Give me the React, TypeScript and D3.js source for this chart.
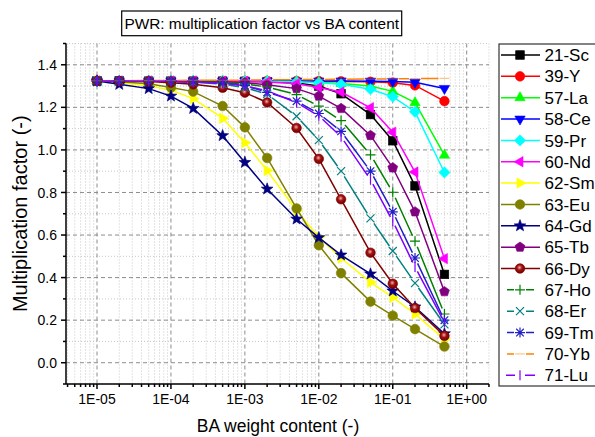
import React from "react";
import * as d3 from "d3";

// BA weight fraction sampled in the burnable-absorber study
const baContent = [1e-5, 2e-5, 5e-5, 1e-4, 2e-4, 5e-4, 1e-3, 2e-3, 5e-3, 1e-2, 2e-2, 5e-2, 1e-1, 2e-1, 5e-1];

// multiplication factor per absorber element
const scValues = [1.324, 1.324, 1.323, 1.323, 1.323, 1.323, 1.322, 1.321, 1.314, 1.300, 1.264, 1.166, 1.043, 0.831, 0.415];
const yValues = [1.324, 1.324, 1.324, 1.324, 1.324, 1.324, 1.324, 1.324, 1.324, 1.323, 1.322, 1.320, 1.316, 1.303, 1.229];
const laValues = [1.324, 1.324, 1.324, 1.324, 1.324, 1.324, 1.323, 1.323, 1.321, 1.318, 1.312, 1.300, 1.275, 1.222, 0.975];
const ceValues = [1.324, 1.324, 1.324, 1.324, 1.324, 1.324, 1.324, 1.324, 1.324, 1.324, 1.324, 1.323, 1.322, 1.318, 1.289];
const prValues = [1.324, 1.324, 1.324, 1.324, 1.324, 1.324, 1.323, 1.322, 1.320, 1.316, 1.308, 1.285, 1.250, 1.179, 0.894];
const ndValues = [1.324, 1.324, 1.324, 1.324, 1.324, 1.323, 1.322, 1.319, 1.311, 1.293, 1.272, 1.198, 1.083, 0.896, 0.489];
const smValues = [1.324, 1.315, 1.301, 1.281, 1.241, 1.149, 1.034, 0.903, 0.715, 0.590, 0.492, 0.378, 0.307, 0.229, 0.110];
const euValues = [1.324, 1.320, 1.311, 1.293, 1.274, 1.206, 1.106, 0.962, 0.725, 0.552, 0.421, 0.287, 0.221, 0.158, 0.076];
const gdValues = [1.324, 1.308, 1.288, 1.253, 1.195, 1.067, 0.941, 0.816, 0.675, 0.588, 0.506, 0.417, 0.337, 0.262, 0.136];
const tbValues = [1.324, 1.324, 1.324, 1.323, 1.322, 1.320, 1.316, 1.306, 1.288, 1.253, 1.195, 1.068, 0.916, 0.709, 0.334];
const dyValues = [1.324, 1.323, 1.321, 1.316, 1.308, 1.292, 1.269, 1.223, 1.103, 0.958, 0.768, 0.517, 0.371, 0.257, 0.126];
const hoValues = [1.324, 1.324, 1.324, 1.323, 1.321, 1.317, 1.310, 1.296, 1.260, 1.206, 1.138, 0.977, 0.801, 0.571, 0.229];
const erValues = [1.324, 1.324, 1.323, 1.322, 1.318, 1.309, 1.293, 1.262, 1.158, 1.046, 0.900, 0.678, 0.525, 0.374, 0.180];
const tmValues = [1.324, 1.324, 1.323, 1.322, 1.320, 1.315, 1.303, 1.270, 1.229, 1.171, 1.087, 0.900, 0.709, 0.492, 0.200];
const ybValues = [1.325, 1.325, 1.326, 1.326, 1.327, 1.327, 1.328, 1.329, 1.330, 1.331, 1.332, 1.333, 1.334, 1.335, 1.336];
const luValues = [1.324, 1.324, 1.323, 1.322, 1.319, 1.313, 1.301, 1.278, 1.222, 1.160, 1.062, 0.860, 0.665, 0.450, 0.190];

const seriesNames = ["21-Sc", "39-Y", "57-La", "58-Ce", "59-Pr", "60-Nd", "62-Sm", "63-Eu", "64-Gd", "65-Tb", "66-Dy", "67-Ho", "68-Er", "69-Tm", "70-Yb", "71-Lu"];
const seriesValues = [scValues, yValues, laValues, ceValues, prValues, ndValues, smValues, euValues, gdValues, tbValues, dyValues, hoValues, erValues, tmValues, ybValues, luValues];
const seriesColors = ["#000000", "#ff0000", "#00ff00", "#0000ff", "#00ffff", "#ff00ff", "#ffff00", "#808000", "#000080", "#800080", "#800000", "#008000", "#008080", "#2020c8", "#ff8000", "#8000ff"];
const seriesMarkers = ["square", "circle", "triUp", "triDown", "diamond", "triLeft", "triRight", "circle", "star", "pentagon", "ball", "plus", "cross", "asterisk", "dash", "bar"];

const xTickValues = [1e-5, 1e-4, 1e-3, 1e-2, 1e-1, 1];
const xTickLabels = ["1E-05", "1E-04", "1E-03", "1E-02", "1E-01", "1E+00"];
const yTickValues = [0, 0.2, 0.4, 0.6, 0.8, 1.0, 1.2, 1.4];
const yTickLabels = ["0.0", "0.2", "0.4", "0.6", "0.8", "1.0", "1.2", "1.4"];
const yMinorValues = [-0.1, 0.1, 0.3, 0.5, 0.7, 0.9, 1.1, 1.3, 1.5];

const W = 595;
const H = 437;
const FONT = "'Liberation Sans', Arial, sans-serif";

const plotLeft = 66;
const plotRight = 489;
const plotTop = 43.5;
const plotBottom = 384;

const x = d3.scaleLog().domain([1e-5, 1]).range([97, 466.7]);
const y = d3.scaleLinear().domain([-0.1, 1.5]).range([plotBottom, plotTop]);

function polygon(n: number, r: number, rot: number): string {
  const pts: string[] = [];
  for (let i = 0; i < n; i++) {
    const a = rot + (i * 2 * Math.PI) / n;
    pts.push(`${(r * Math.cos(a)).toFixed(2)},${(r * Math.sin(a)).toFixed(2)}`);
  }
  return "M" + pts.join("L") + "Z";
}

function starPath(ro: number, ri: number): string {
  const pts: string[] = [];
  for (let i = 0; i < 10; i++) {
    const r = i % 2 === 0 ? ro : ri;
    const a = -Math.PI / 2 + (i * Math.PI) / 5;
    pts.push(`${(r * Math.cos(a)).toFixed(2)},${(r * Math.sin(a)).toFixed(2)}`);
  }
  return "M" + pts.join("L") + "Z";
}

const strokedMarkers = new Set(["plus", "cross", "asterisk", "dash", "bar"]);
const markerGap: Record<string, number> = { plus: 6, cross: 6, asterisk: 6, dash: 6, bar: 5 };

function Marker({ kind, color, cx, cy }: { kind: string; color: string; cx: number; cy: number }) {
  const t = `translate(${cx},${cy})`;
  const sw = 1.2;
  switch (kind) {
    case "square":
      return <rect x={cx - 4.3} y={cy - 4.3} width={8.6} height={8.6} fill={color} stroke={color} strokeWidth={0.6} />;
    case "circle":
      return <circle cx={cx} cy={cy} r={4.8} fill={color} stroke={color} strokeWidth={0.6} />;
    case "ball":
      return <circle cx={cx} cy={cy} r={4.8} fill="url(#ballGrad)" stroke={color} strokeWidth={0.6} />;
    case "triUp":
      return <path transform={t} d={polygon(3, 6, -Math.PI / 2)} fill={color} stroke={color} strokeWidth={0.6} />;
    case "triDown":
      return <path transform={t} d={polygon(3, 6, Math.PI / 2)} fill={color} stroke={color} strokeWidth={0.6} />;
    case "triLeft":
      return <path transform={t} d={polygon(3, 6, Math.PI)} fill={color} stroke={color} strokeWidth={0.6} />;
    case "triRight":
      return <path transform={t} d={polygon(3, 6, 0)} fill={color} stroke={color} strokeWidth={0.6} />;
    case "diamond":
      return <path transform={t} d={polygon(4, 5.6, 0)} fill={color} stroke={color} strokeWidth={0.6} />;
    case "pentagon":
      return <path transform={t} d={polygon(5, 5.2, -Math.PI / 2)} fill={color} stroke={color} strokeWidth={0.6} />;
    case "star":
      return <path transform={t} d={starPath(6.2, 2.6)} fill={color} stroke={color} strokeWidth={0.6} />;
    case "plus":
      return <path transform={t} d="M-5,0H5M0,-5V5" stroke={color} strokeWidth={sw} fill="none" />;
    case "cross":
      return <path transform={t} d="M-4,-4L4,4M-4,4L4,-4" stroke={color} strokeWidth={sw} fill="none" />;
    case "asterisk":
      return <path transform={t} d="M-5,0H5M0,-5V5M-3.8,-3.8L3.8,3.8M-3.8,3.8L3.8,-3.8" stroke={color} strokeWidth={sw} fill="none" />;
    case "dash":
      return <path transform={t} d="M-5,0H5" stroke={color} strokeWidth={sw} strokeOpacity={0.45} fill="none" />;
    case "bar":
      return <path transform={t} d="M0,-5V5" stroke={color} strokeWidth={sw} fill="none" />;
    default:
      return null;
  }
}

// connecting segments, trimmed near open symbols so the symbol stands alone
function segmentsPath(pts: [number, number][], gap: number): string {
  if (gap <= 0) {
    return d3.line()(pts) || "";
  }
  let d = "";
  for (let i = 0; i < pts.length - 1; i++) {
    const [x0, y0] = pts[i];
    const [x1, y1] = pts[i + 1];
    const len = Math.hypot(x1 - x0, y1 - y0);
    if (len <= 2 * gap) continue;
    const ux = (x1 - x0) / len;
    const uy = (y1 - y0) / len;
    d += `M${(x0 + ux * gap).toFixed(2)},${(y0 + uy * gap).toFixed(2)}L${(x1 - ux * gap).toFixed(2)},${(y1 - uy * gap).toFixed(2)}`;
  }
  return d;
}

function minorLogTicks(): number[] {
  const out: number[] = [];
  for (let e = -6; e <= 0; e++) {
    for (let k = 2; k <= 9; k++) {
      const v = k * Math.pow(10, e);
      const px = x(v);
      if (px >= plotLeft && px <= plotRight) out.push(v);
    }
  }
  return out;
}

export default function App() {
  const xMinor = minorLogTicks();
  const legendX = 499;
  const legendY0 = 55;
  const legendStep = 21.35;

  return (
    <svg width={W} height={H} style={{ position: "absolute", left: 0, top: 0, display: "block" }} fontFamily={FONT}>
      <defs>
        <radialGradient id="ballGrad" cx="0.45" cy="0.4" r="0.6">
          <stop offset="0" stopColor="#f0b0b0" />
          <stop offset="0.45" stopColor="#a01010" />
          <stop offset="1" stopColor="#700000" />
        </radialGradient>
        <clipPath id="plotClip">
          <rect x={plotLeft} y={plotTop} width={plotRight - plotLeft} height={plotBottom - plotTop} />
        </clipPath>
      </defs>
      <rect x={0} y={0} width={W} height={H} fill="#ffffff" />

      {/* minor grid */}
      <g stroke="#c8c8c8" strokeWidth={1} strokeDasharray="1,2">
        {xMinor.map((v, i) => (
          <line key={"xm" + i} x1={x(v)} x2={x(v)} y1={plotTop} y2={plotBottom} />
        ))}
        {yMinorValues.map((v, i) => (
          <line key={"ym" + i} x1={plotLeft} x2={plotRight} y1={y(v)} y2={y(v)} />
        ))}
      </g>
      {/* major grid */}
      <g stroke="#8c8c8c" strokeWidth={1} strokeDasharray="4,3">
        {xTickValues.map((v, i) => (
          <line key={"xg" + i} x1={x(v)} x2={x(v)} y1={plotTop} y2={plotBottom} />
        ))}
        {yTickValues.map((v, i) => (
          <line key={"yg" + i} x1={plotLeft} x2={plotRight} y1={y(v)} y2={y(v)} />
        ))}
      </g>

      {/* series */}
      <g clipPath="url(#plotClip)">
        {seriesValues.map((vals, si) => {
          const pts: [number, number][] = vals.map((v, i) => [x(baContent[i]), y(v)]);
          const kind = seriesMarkers[si];
          const gap = strokedMarkers.has(kind) ? markerGap[kind] : 0;
          return (
            <g key={"s" + si}>
              <path d={segmentsPath(pts, gap)} fill="none" stroke={seriesColors[si]} strokeWidth={1.5} />
              {pts.map((p, i) => (
                <Marker key={i} kind={kind} color={seriesColors[si]} cx={p[0]} cy={p[1]} />
              ))}
            </g>
          );
        })}
      </g>

      {/* axes */}
      <g stroke="#000" strokeWidth={1.5}>
        <line x1={plotLeft} x2={plotLeft} y1={plotTop} y2={plotBottom} />
        <line x1={plotLeft} x2={plotRight} y1={plotBottom} y2={plotBottom} />
        {yTickValues.map((v, i) => (
          <line key={"yt" + i} x1={plotLeft - 5} x2={plotLeft} y1={y(v)} y2={y(v)} />
        ))}
        {yMinorValues.map((v, i) => (
          <line key={"ymt" + i} x1={plotLeft - 3} x2={plotLeft} y1={y(v)} y2={y(v)} />
        ))}
        {xTickValues.map((v, i) => (
          <line key={"xt" + i} x1={x(v)} x2={x(v)} y1={plotBottom} y2={plotBottom + 5} />
        ))}
        {xMinor.map((v, i) => (
          <line key={"xmt" + i} x1={x(v)} x2={x(v)} y1={plotBottom} y2={plotBottom + 3} />
        ))}
      </g>
      <g fontSize={14} fill="#000">
        {yTickValues.map((v, i) => (
          <text key={"yl" + i} x={plotLeft - 9} y={y(v)} dy="0.36em" textAnchor="end">
            {yTickLabels[i]}
          </text>
        ))}
        {xTickValues.map((v, i) => (
          <text key={"xl" + i} x={x(v)} y={plotBottom + 20} textAnchor="middle">
            {xTickLabels[i]}
          </text>
        ))}
      </g>
      <text x={278} y={432} fontSize={17.5} textAnchor="middle" fill="#000">
        BA weight content (-)
      </text>
      <text transform={`translate(27,${(plotTop + plotBottom) / 2 + 0}) rotate(-90)`} fontSize={20} textAnchor="middle" fill="#000">
        Multiplication factor (-)
      </text>

      {/* title */}
      <rect x={121.7} y={11} width={280} height={24.7} fill="#fff" stroke="#000" strokeWidth={1.2} />
      <text x={261.7} y={29} fontSize={15.4} textAnchor="middle" fill="#000">
        PWR: multiplication factor vs BA content
      </text>

      {/* legend */}
      <rect x={legendX} y={44} width={110} height={342} fill="#fff" stroke="#333" strokeWidth={1.2} />
      {seriesNames.map((name, i) => {
        const cy = legendY0 + i * legendStep;
        const kind = seriesMarkers[i];
        const gap = strokedMarkers.has(kind) ? markerGap[kind] : 0;
        const lx0 = legendX + 2;
        const lx1 = legendX + 41;
        const mx = legendX + 21;
        const pts: [number, number][] = [
          [lx0, cy],
          [mx, cy],
          [lx1, cy],
        ];
        return (
          <g key={"lg" + i}>
            <path d={segmentsPath(pts, gap)} fill="none" stroke={seriesColors[i]} strokeWidth={1.5} />
            <Marker kind={kind} color={seriesColors[i]} cx={mx} cy={cy} />
            <text x={legendX + 45.5} y={cy} dy="0.36em" fontSize={17} fill="#000">
              {name}
            </text>
          </g>
        );
      })}
    </svg>
  );
}
